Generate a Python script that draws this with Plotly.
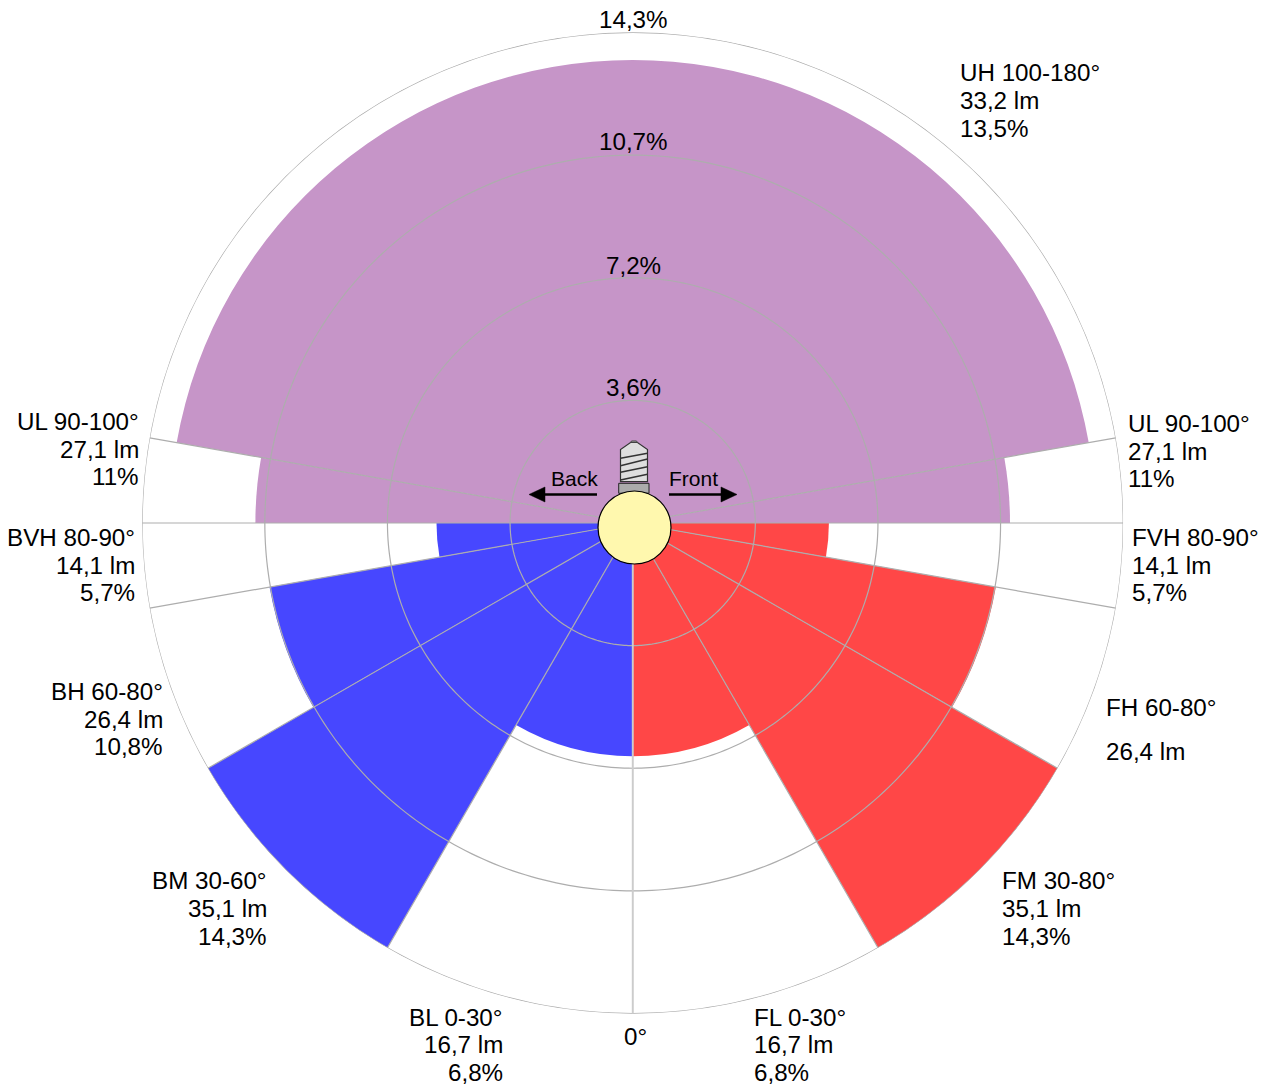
import plotly.graph_objects as go

# --- data ---
zone_start = [100, 90, 80, 60, 30, 0, 90, 80, 60, 30, 0]
zone_end = [260, 100, 90, 80, 60, 30, 100, 90, 80, 60, 30]
zone_pct = [13.5, 11.0, 5.72, 10.75, 14.3, 6.8, 11.0, 5.72, 10.75, 14.3, 6.8]
zone_side = [1, 1, 1, 1, 1, 1, -1, -1, -1, -1, -1]
zone_color = ["#C695C8", "#C695C8", "#FF4747", "#FF4747", "#FF4747", "#FF4747",
              "#C695C8", "#4747FF", "#4747FF", "#4747FF", "#4747FF"]
ring_values = [3.575, 7.15, 10.725, 14.3]
spoke_angles = [0, 30, 60, 80, 90, 100]

W, H = 1266, 1086
PAGE_MARGIN = 8  # the browser's default body margin shifts the figure
CX, CY, R = 632.7, 523, 490.5
GRID = "#ADADAD"
FONT = "Liberation Sans, Arial, sans-serif"

# (text, x, y, anchor)
labels = [
    ("14,3%", 633, 20, "center"), ("10,7%", 633, 141.3, "center"),
    ("7,2%", 633, 265.3, "center"), ("3,6%", 633, 387.3, "center"),
    ("0°", 635, 1036.3, "center"),
    ("UH 100-180°", 959, 72.3, "left"), ("33,2 lm", 959, 100.3, "left"), ("13,5%", 959, 128.3, "left"),
    ("UL 90-100°", 1127, 423.3, "left"), ("27,1 lm", 1127, 451.3, "left"), ("11%", 1127, 478.3, "left"),
    ("UL 90-100°", 140, 421.3, "right"), ("27,1 lm", 140, 449.3, "right"), ("11%", 140, 476.3, "right"),
    ("BVH 80-90°", 136, 537.3, "right"), ("14,1 lm", 136, 565.3, "right"), ("5,7%", 136, 592.3, "right"),
    ("FVH 80-90°", 1131, 537.3, "left"), ("14,1 lm", 1131, 565.3, "left"), ("5,7%", 1131, 592.3, "left"),
    ("BH 60-80°", 164, 691.3, "right"), ("26,4 lm", 164, 719.3, "right"), ("10,8%", 164, 746.3, "right"),
    ("FH 60-80°", 1105, 707.3, "left"), ("26,4 lm", 1105, 751.3, "left"),
    ("BM 30-60°", 268, 880.3, "right"), ("35,1 lm", 268, 908.3, "right"), ("14,3%", 268, 936.3, "right"),
    ("FM 30-80°", 1001, 880.3, "left"), ("35,1 lm", 1001, 908.3, "left"), ("14,3%", 1001, 936.3, "left"),
    ("BL 0-30°", 504, 1017.3, "right"), ("16,7 lm", 504, 1044.3, "right"), ("6,8%", 504, 1072.3, "right"),
    ("FL 0-30°", 753, 1017.3, "left"), ("16,7 lm", 753, 1044.3, "left"), ("6,8%", 753, 1072.3, "left"),
]


def px(x):
    return (x - PAGE_MARGIN) / W


def py(y):
    return 1 - (y - PAGE_MARGIN) / H


def path(points, close=True):
    d = "M " + " L ".join(f"{px(x):.5f},{py(y):.5f}" for x, y in points)
    return d + (" Z" if close else "")


fig = go.Figure()

fig.add_trace(go.Barpolar(
    theta=[s * (a + b) / 2 for a, b, s in zip(zone_start, zone_end, zone_side)],
    width=[b - a for a, b in zip(zone_start, zone_end)],
    r=zone_pct,
    marker=dict(color=zone_color, line=dict(width=0)),
    hoverinfo="skip", showlegend=False,
))

for ring in ring_values:
    fig.add_trace(go.Scatterpolar(
        theta=list(range(0, 361)), r=[ring] * 361, mode="lines",
        line=dict(color=GRID, width=1.2), cliponaxis=False,
        hoverinfo="skip", showlegend=False,
    ))
for ang in spoke_angles:
    for side in (1, -1):
        fig.add_trace(go.Scatterpolar(
            theta=[side * ang, side * ang], r=[0, ring_values[-1]], mode="lines",
            line=dict(color="#CCCCCC" if ang == 0 else GRID, width=1.6 if ang == 0 else 1.2),
            cliponaxis=False, hoverinfo="skip", showlegend=False,
        ))

shapes = []


def add_poly(points, fill, line="#000000", width=1, close=True):
    shapes.append(dict(type="path", xref="paper", yref="paper", layer="above",
                       path=path(points, close),
                       fillcolor=fill if close else "rgba(0,0,0,0)",
                       line=dict(color=line, width=width)))


# screw body, threads and collar of the lamp
add_poly([(620.5, 481.7), (620.5, 449.5), (630.5, 442.5), (637.5, 442.5), (647.5, 449.5), (647.5, 481.7)],
         "#DEDEDE", "#333333", 1.2)
add_poly([(630.5, 442.5), (631.5, 441), (636.5, 441), (637.5, 442.5)], "#A8A8A8", "#444444", 1)
for y0, y1 in [(458.3, 453.3), (465.7, 459), (472.3, 466.7), (480, 474.3)]:
    add_poly([(620.5, y0), (647.5, y1)], None, "#333333", 1.6, close=False)
add_poly([(618.7, 483.3), (649, 483.3), (649, 493.3), (618.7, 493.3)], "#ABABAB", "#222222", 1)

# lamp globe
shapes.append(dict(type="circle", xref="paper", yref="paper", layer="above",
                   x0=px(598), x1=px(671), y0=py(564), y1=py(491),
                   fillcolor="#FFF8AE", line=dict(color="#000000", width=1.2)))

# direction arrows
add_poly([(597, 494.5), (545, 494.5)], None, "#000000", 2.6, close=False)
add_poly([(529, 494.5), (545, 487), (545, 502)], "#000000", "#000000", 0.5)
add_poly([(669, 494.5), (721, 494.5)], None, "#000000", 2.6, close=False)
add_poly([(737, 494.5), (721, 487), (721, 502)], "#000000", "#000000", 0.5)

annotations = [
    dict(text=t, x=px(x), y=py(y), xref="paper", yref="paper", xanchor=a, yanchor="middle",
         showarrow=False, align=a, borderpad=0,
         font=dict(family=FONT, size=24.2, color="#000000"))
    for t, x, y, a in labels
]
annotations += [
    dict(text=t, x=px(x), y=py(479), xref="paper", yref="paper", xanchor=a, yanchor="middle",
         showarrow=False, borderpad=0, font=dict(family=FONT, size=21, color="#000000"))
    for t, x, a in [("Back", 599, "right"), ("Front", 668, "left")]
]

fig.update_layout(
    width=W, height=H, autosize=False,
    margin=dict(l=0, r=0, t=0, b=0),
    paper_bgcolor="#FFFFFF", plot_bgcolor="#FFFFFF",
    showlegend=False,
    shapes=shapes, annotations=annotations,
    polar=dict(
        domain=dict(x=[px(CX - R), px(CX + R)], y=[py(CY + R), py(CY - R)]),
        bgcolor="#FFFFFF",
        sector=[0, 360],
        radialaxis=dict(range=[0, ring_values[-1]], visible=False),
        angularaxis=dict(rotation=-90, direction="counterclockwise", visible=False),
    ),
)

fig.write_html("out.html", config={"displayModeBar": False})
